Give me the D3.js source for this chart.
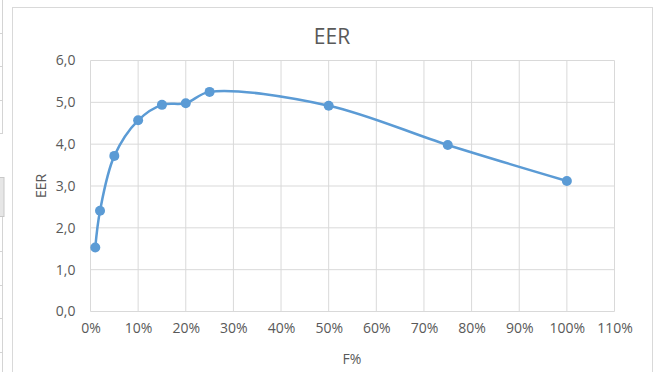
<!DOCTYPE html>
<html>
<head>
<meta charset="utf-8">
<script src="https://cdn.jsdelivr.net/npm/d3@7/dist/d3.min.js"></script>
<style>
  html, body { margin: 0; padding: 0; background: #fff; }
  svg { display: block; }
  text { font-family: "Open Sans", "Liberation Sans", sans-serif; fill: #595959; }
</style>
</head>
<body>
<svg id="chart" width="658" height="372"></svg>
<script>
const fractions = [0.01, 0.02, 0.05, 0.10, 0.15, 0.20, 0.25, 0.50, 0.75, 1.00];
const eerValues = [1.53, 2.41, 3.72, 4.57, 4.94, 4.98, 5.25, 4.92, 3.98, 3.12];
const xTicks = [0, 0.1, 0.2, 0.3, 0.4, 0.5, 0.6, 0.7, 0.8, 0.9, 1.0, 1.1];
const yTicks = [0, 1, 2, 3, 4, 5, 6];
const chartTitle = "EER";
const xTitle = "F%";
const yTitle = "EER";

const svg = d3.select("#chart");

// spreadsheet cell edges at the left
const cellEdge = "#d4d4d4";
svg.append("line").attr("x1", 2.5).attr("x2", 2.5).attr("y1", 0).attr("y2", 134).attr("stroke", cellEdge);
svg.append("line").attr("x1", 2.5).attr("x2", 2.5).attr("y1", 216).attr("y2", 372).attr("stroke", cellEdge);
[33.5, 66.5, 100.5, 133.5, 251.5, 285.5, 318.5, 352.5].forEach(y => {
  svg.append("line").attr("x1", 0).attr("x2", 3).attr("y1", y).attr("y2", y).attr("stroke", cellEdge);
});
svg.append("rect").attr("x", -1).attr("y", 177.5).attr("width", 5).attr("height", 39)
  .attr("fill", "#e6e6e6").attr("stroke", "#c8c8c8");

// chart area border
svg.append("rect").attr("x", 12.5).attr("y", 7.5).attr("width", 640).attr("height", 380)
  .attr("fill", "#fff").attr("stroke", "#d9d9d9");

const x = d3.scaleLinear().domain([0, 1.1]).range([90.5, 614.5]);
const y = d3.scaleLinear().domain([0, 6]).range([311.5, 60.5]);

// gridlines
const grid = svg.append("g");
grid.selectAll("line.h").data(yTicks).join("line")
  .attr("x1", x(0)).attr("x2", x(1.1))
  .attr("y1", d => y(d)).attr("y2", d => y(d))
  .attr("stroke", "#d9d9d9").attr("stroke-width", 1);
grid.selectAll("line.v").data(xTicks).join("line")
  .attr("y1", y(0)).attr("y2", y(6))
  .attr("x1", d => x(d)).attr("x2", d => x(d))
  .attr("stroke", "#d9d9d9").attr("stroke-width", 1);

// axes (labels only)
const fmtY = d => d3.format(".1f")(d).replace(".", ",");
const yAxis = d3.axisLeft(y).tickValues(yTicks).tickFormat(fmtY).tickSize(0).tickPadding(15);
const gy = svg.append("g").attr("transform", `translate(${x(0)},0)`).call(yAxis);
gy.select(".domain").remove();
gy.selectAll("text").attr("font-size", 14).attr("fill", "#595959")
  .style("font-family", '"Open Sans", sans-serif');

const xAxis = d3.axisBottom(x).tickValues(xTicks).tickFormat(d => Math.round(d * 100) + "%").tickSize(0).tickPadding(12);
const gx = svg.append("g").attr("transform", `translate(0,${y(0)})`).call(xAxis);
gx.select(".domain").remove();
gx.selectAll("text").attr("font-size", 14).attr("fill", "#595959")
  .style("font-family", '"Open Sans", sans-serif');

// titles
svg.append("text").attr("x", 332).attr("y", 44).attr("text-anchor", "middle")
  .attr("font-size", 21).text(chartTitle);
svg.append("text").attr("x", 352).attr("y", 364).attr("text-anchor", "middle")
  .attr("font-size", 14).text(xTitle);
svg.append("text").attr("transform", "translate(45.5,186) rotate(-90)").attr("text-anchor", "middle")
  .attr("font-size", 14).text(yTitle);

// series
const data = fractions.map((f, i) => ({ f, v: eerValues[i] }));
const line = d3.line().x(d => x(d.f)).y(d => y(d.v)).curve(d3.curveCatmullRom.alpha(0.5));
svg.append("path").datum(data).attr("d", line)
  .attr("fill", "none").attr("stroke", "#5B9BD5").attr("stroke-width", 2.5)
  .attr("stroke-linejoin", "round").attr("stroke-linecap", "round");
svg.selectAll("circle.pt").data(data).join("circle")
  .attr("cx", d => x(d.f)).attr("cy", d => y(d.v)).attr("r", 5)
  .attr("fill", "#5B9BD5");
</script>
</body>
</html>
